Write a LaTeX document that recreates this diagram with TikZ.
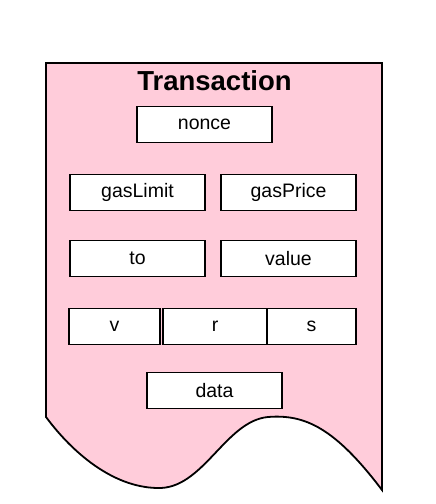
\documentclass[tikz,border=0pt]{standalone}
\usepackage{fontspec}
\setmainfont{Liberation Sans}
\definecolor{docpink}{HTML}{FFCCDA}
\begin{document}
\begin{tikzpicture}[x=1pt,y=-1pt,
  field/.style={draw=black,line width=1.6pt,fill=white,inner sep=0pt,font=\fontsize{19.5}{21}\selectfont},
  doc/.style={draw=black,line width=1.8pt,fill=docpink,line join=miter}]
\useasboundingbox (0,0) rectangle (436,504);
\path[doc] (46,63) -- (382,63) -- (382,490)
  .. controls (335,428) and (305,414) .. (268,417)
  .. controls (225,421) and (203,490) .. (157,488)
  .. controls (112,487) and (72,452) .. (46,417) -- cycle;
\node[font=\fontsize{27.5}{29}\selectfont\bfseries] (title) at (214.5,81) {Transaction};
\node[field,minimum width=135pt,minimum height=36pt] (nonce) at (204.5,124.5) {nonce};
\node[field,minimum width=135pt,minimum height=36pt] (gaslimit) at (137.5,192.5) {gasLimit};
\node[field,minimum width=135pt,minimum height=36pt] (gasprice) at (288.5,192.5) {gasPrice};
\node[field,minimum width=135pt,minimum height=36pt] (to) at (137.5,258.5) {to};
\node[field,minimum width=135pt,minimum height=36pt] (value) at (288.5,258.5) {value};
\node[field,minimum width=91pt,minimum height=36pt] (v) at (114.5,326.5) {v};
\node[field,minimum width=104pt,minimum height=36pt] (r) at (215,326.5) {r};
\node[field,minimum width=89pt,minimum height=36pt] (s) at (311.5,326.5) {s};
\node[field,minimum width=135pt,minimum height=36pt] (data) at (214.5,390.5) {data};
\end{tikzpicture}
\end{document}
